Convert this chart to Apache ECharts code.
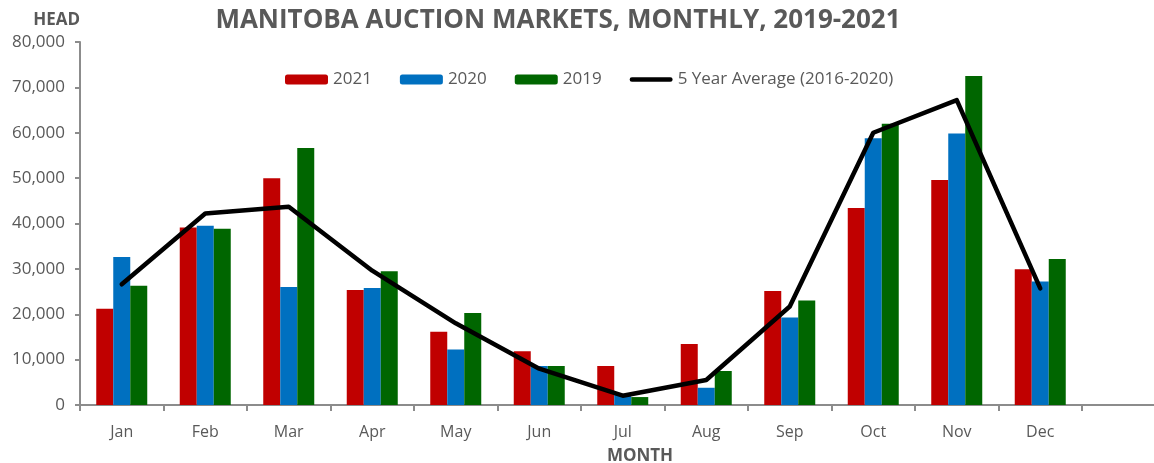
<!DOCTYPE html>
<html>
<head>
<meta charset="utf-8">
<script src="https://cdn.jsdelivr.net/npm/echarts@6/dist/echarts.min.js"></script>
<style>
  html, body { margin: 0; padding: 0; background: #fff; }
  #main { width: 1154px; height: 463px; }
</style>
</head>
<body>
<div id="main"></div>
<script>
var months = ['Jan', 'Feb', 'Mar', 'Apr', 'May', 'Jun', 'Jul', 'Aug', 'Sep', 'Oct', 'Nov', 'Dec'];
var y2021 = [21200, 39100, 50000, 25350, 16150, 11850, 8600, 13450, 25100, 43400, 49600, 29900];
var y2020 = [32600, 39500, 26000, 25800, 12250, 8600, 2400, 3800, 19300, 58800, 59850, 27200];
var y2019 = [26300, 38850, 56650, 29450, 20300, 8600, 1750, 7500, 23050, 62000, 72500, 32200];
var avg5 = [26600, 42200, 43700, 29600, 18000, 8000, 2050, 5500, 21700, 60000, 67200, 25700];

var grey = '#595959';
var axisGrey = '#8c8c8c';
var font = '"Open Sans", "Liberation Sans", sans-serif';

var chart = echarts.init(document.getElementById('main'));

function bar(name, data, color) {
    return {
        name: name,
        type: 'bar',
        data: data,
        barWidth: 17,
        barGap: '0%',
        itemStyle: { color: color },
        z: 2
    };
}

var option = {
    animation: false,
    textStyle: { fontFamily: font },
    title: [
        {
            text: 'MANITOBA AUCTION MARKETS, MONTHLY, 2019-2021',
            left: 553,
            top: 3,
            textAlign: 'center',
            textStyle: { color: grey, fontSize: 26, fontWeight: 'bold', fontFamily: font }
        },
        {
            text: 'MONTH',
            left: 635,
            top: 443,
            textAlign: 'center',
            textStyle: { color: grey, fontSize: 17, fontWeight: 'bold', fontFamily: font }
        }
    ],
    legend: {
        top: 66,
        left: 280,
        itemWidth: 43,
        itemHeight: 10,
        itemGap: 28,
        textStyle: { color: grey, fontSize: 17, fontFamily: font },
        data: [
            '2021', '2020', '2019',
            {
                name: '5 Year Average (2016-2020)',
                icon: 'path://M2,0 L44,0 A2.5,2.5 0 0 1 44,5 L2,5 A2.5,2.5 0 0 1 2,0 Z'
            }
        ]
    },
    grid: [
        { left: 80, top: 42, width: 1002, bottom: 58 },
        // empty stretch of the axis to the right of Dec
        { left: 1082, top: 42, right: 0, bottom: 58 }
    ],
    xAxis: [
        {
            type: 'category',
            data: months,
            axisLine: { lineStyle: { color: axisGrey, width: 2 } },
            axisTick: { show: true, length: 6, lineStyle: { color: axisGrey, width: 2 } },
            axisLabel: { color: grey, fontSize: 16, margin: 19 },
            splitLine: { show: false }
        },
        {
            type: 'category',
            gridIndex: 1,
            data: [''],
            axisLine: { lineStyle: { color: axisGrey, width: 2 } },
            axisTick: { show: false },
            axisLabel: { show: false }
        }
    ],
    yAxis: [
        {
            type: 'value',
            min: 0,
            max: 80000,
            interval: 10000,
            name: 'HEAD',
            nameLocation: 'end',
            nameGap: 13,
            nameTextStyle: { color: grey, fontSize: 17, fontWeight: 'bold', align: 'right' },
            axisLine: { show: true, lineStyle: { color: axisGrey, width: 2 } },
            axisTick: { show: true, length: 5, lineStyle: { color: axisGrey, width: 2 } },
            axisLabel: {
                color: grey,
                fontSize: 17,
                margin: 15,
                formatter: function (v) { return v.toLocaleString('en-US'); }
            },
            splitLine: { show: false }
        },
        {
            type: 'value',
            gridIndex: 1,
            show: false
        }
    ],
    series: [
        bar('2021', y2021, '#C00000'),
        bar('2020', y2020, '#0070C0'),
        bar('2019', y2019, '#006600'),
        {
            name: '5 Year Average (2016-2020)',
            type: 'line',
            data: avg5,
            symbol: 'none',
            lineStyle: { color: '#000', width: 4.5, cap: 'round', join: 'round' },
            itemStyle: { color: '#000' },
            z: 5
        }
    ]
};

chart.setOption(option);
</script>
</body>
</html>
